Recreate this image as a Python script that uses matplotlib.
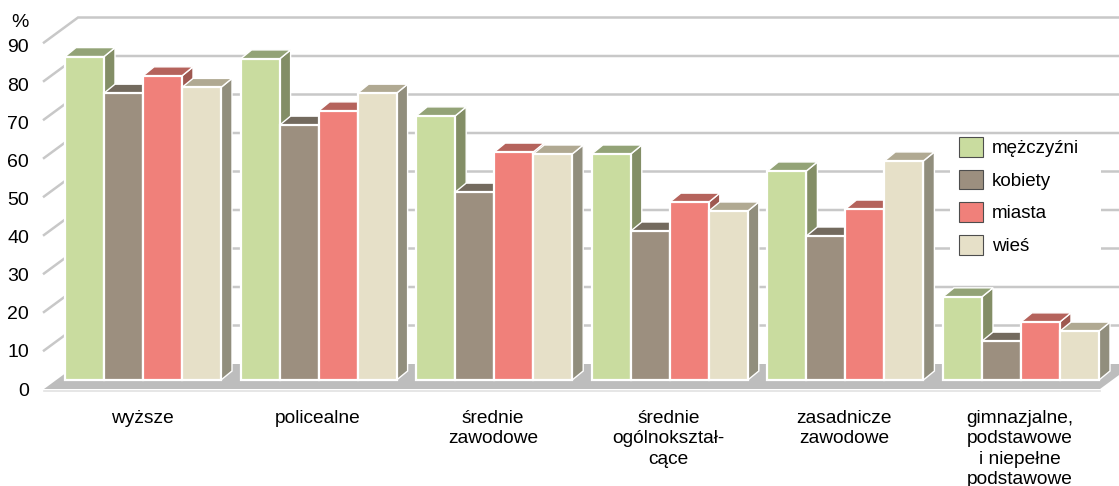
import numpy as np
import matplotlib
matplotlib.use("Agg")
import matplotlib.pyplot as plt
from matplotlib.patches import Patch, Polygon, Rectangle

plt.rcParams["font.family"] = ["Liberation Sans", "DejaVu Sans"]

categories = [
    "wyższe",
    "policealne",
    "średnie\nzawodowe",
    "średnie\nogólnokształ-\ncące",
    "zasadnicze\nzawodowe",
    "gimnazjalne,\npodstawowe\ni niepełne\npodstawowe",
]
series_names = ["mężczyźni", "kobiety", "miasta", "wieś"]
mezczyzni = [84.0, 83.4, 68.6, 58.7, 54.3, 21.6]
kobiety = [74.5, 66.2, 48.8, 38.7, 37.4, 10.1]
miasta = [79.0, 69.9, 59.2, 46.2, 44.4, 15.1]
wies = [76.0, 74.5, 58.7, 43.9, 56.9, 12.7]
y_ticks = [0, 10, 20, 30, 40, 50, 60, 70, 80, 90]

# front, top, side
colors = [
    ("#c9dc9f", "#93a377", "#838e66"),
    ("#9c8f7f", "#736a5e", "#6f675c"),
    ("#f0807a", "#b5635c", "#9e5850"),
    ("#e6e0c8", "#b0a992", "#918e7d"),
]

GROUP_PX = 175.6
UNIT_PX = 3.85
BAR_W = 39 / GROUP_PX
BAR_DX = 11 / GROUP_PX
BAR_DY = 9 / UNIT_PX
GRID_COLOR = "#c8c8c8"
TEXT_COLOR = "#000000"

fig = plt.figure(figsize=(11.19, 4.86), dpi=100)
ax = fig.add_axes([0, 0, 1, 1])
# first bar starts at x=65px, the bars stand on y=380px
ax.set_xlim(-65 / GROUP_PX, (1119 - 65) / GROUP_PX)
ax.set_ylim((380 - 486) / UNIT_PX, 380 / UNIT_PX)
ax.axis("off")

# depth of the chart box, left wall and floor
back_x = 13 / GROUP_PX
front_x = -21 / GROUP_PX
back_dy = 16 / UNIT_PX
front_dy = -9 / UNIT_PX
right_x = 1035 / GROUP_PX
far_x = 1069 / GROUP_PX

floor = Polygon(
    [(front_x, front_dy), (right_x, front_dy), (far_x, back_dy), (back_x, back_dy)],
    facecolor="#bdbdbd", edgecolor="none", zorder=1,
)
ax.add_patch(floor)
ax.plot([front_x, right_x], [front_dy - 0.4, front_dy - 0.4], color="#e2e2e2", lw=1.2, zorder=1)

for t in y_ticks[1:]:
    ax.plot([front_x, back_x, far_x], [t + front_dy, t + back_dy, t + back_dy],
            color=GRID_COLOR, lw=1.8, zorder=1, solid_joinstyle="miter")

# tick labels sit on a slightly tighter scale than the gridlines
for t in y_ticks:
    ax.text((29 - 65) / GROUP_PX, 0.99 * t - 2.86, str(t), ha="right", va="center",
            fontsize=14, color=TEXT_COLOR)
ax.text((29 - 65) / GROUP_PX, (380 - 22) / UNIT_PX, "%", ha="right", va="center",
        fontsize=14, color=TEXT_COLOR)

x = np.arange(len(categories))
all_series = [mezczyzni, kobiety, miasta, wies]
for g in x:
    for s, vals in enumerate(all_series):
        left = g + s * BAR_W
        right = left + BAR_W
        v = vals[g]
        front, top, side = colors[s]
        ax.add_patch(Polygon(
            [(right, 0), (right + BAR_DX, BAR_DY), (right + BAR_DX, v + BAR_DY), (right, v)],
            facecolor=side, edgecolor="white", lw=1.0, zorder=3 + s,
        ))
        ax.add_patch(Polygon(
            [(left, v), (right, v), (right + BAR_DX, v + BAR_DY), (left + BAR_DX, v + BAR_DY)],
            facecolor=top, edgecolor="white", lw=1.0, zorder=3 + s,
        ))
        ax.add_patch(Rectangle(
            (left, 0), BAR_W, v,
            facecolor=front, edgecolor="white", lw=1.6, zorder=3 + s,
        ))

for g, label in zip(x, categories):
    ax.text(g + 2 * BAR_W - 1 / GROUP_PX, -30 / UNIT_PX, label, ha="center", va="top", fontsize=13.8,
            linespacing=1.25, color=TEXT_COLOR)

# white patch behind the legend hides the gridlines there
ax.add_patch(Rectangle(
    ((950 - 65) / GROUP_PX, (380 - 262) / UNIT_PX), 151 / GROUP_PX, 125 / UNIT_PX,
    facecolor="white", edgecolor="none", zorder=2,
))
handles = [Patch(facecolor=c[0], edgecolor="#4d4d4d", lw=0.8) for c in colors]
leg = ax.legend(
    handles, series_names, loc="upper left",
    bbox_to_anchor=(959 / 1119, 1 - 137 / 486), bbox_transform=fig.transFigure,
    frameon=False, fontsize=13.5, handlelength=1.28, handleheight=1.23, labelspacing=0.67,
    handletextpad=0.48, borderpad=0.0, borderaxespad=0, labelcolor=TEXT_COLOR,
)

fig.savefig("out.png", dpi=100)
plt.close(fig)
